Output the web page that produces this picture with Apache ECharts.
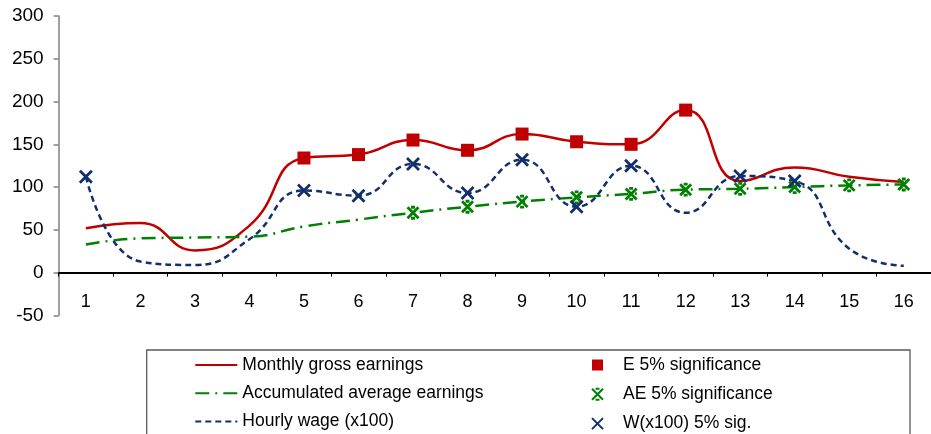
<!DOCTYPE html>
<html>
<head>
<meta charset="utf-8">
<script src="https://cdn.jsdelivr.net/npm/echarts@6/dist/echarts.min.js"></script>
<style>
html,body{margin:0;padding:0;background:#fff;}
#chart{width:931px;height:434px;}
</style>
</head>
<body>
<div id="chart"></div>
<script>
const categories = ['1','2','3','4','5','6','7','8','9','10','11','12','13','14','15','16'];
const earnings = [52, 58, 26, 55, 134, 138, 155, 143, 162, 153, 150, 190, 107, 123, 112, 106];
const accumulated = [33, 40, 41, 42, 54, 62, 70, 77, 83, 88, 92, 97, 98, 100, 102, 103];
const hourly = [112, 13, 9, 39, 96, 90, 127, 93, 132, 77, 125, 70, 113, 107, 28, 8];
const sigE = [5, 6, 7, 8, 9, 10, 11, 12];
const sigAE = [7, 8, 9, 10, 11, 12, 13, 14, 15, 16];
const sigW = [1, 5, 6, 7, 8, 9, 10, 11, 13, 14];
const yMin = -50, yMax = 300, yStep = 50;

const names = ['Monthly gross earnings', 'Accumulated average earnings', 'Hourly wage (x100)',
               'E 5% significance', 'AE 5% significance', 'W(x100) 5% sig.'];
const RED = '#C00000', GREEN = '#008000', NAVY = '#132F6B';
const FONT = '"Liberation Sans", Arial, sans-serif';

function pick(values, sig) {
  return values.map((v, i) => sig.indexOf(i + 1) >= 0 ? v : '-');
}

const chart = echarts.init(document.getElementById('chart'));
chart.setOption({
  animation: false,
  backgroundColor: '#fff',
  grid: { left: 58.6, right: -8.6, top: 16, bottom: 118.6, containLabel: false },
  xAxis: {
    type: 'category',
    data: categories,
    boundaryGap: true,
    axisLine: { onZero: true, lineStyle: { color: '#000', width: 2 } },
    axisTick: { show: true, length: 4, lineStyle: { color: '#000', width: 1 } },
    axisLabel: { color: '#000', fontSize: 18, fontFamily: FONT, margin: -22 },
    splitLine: { show: false }
  },
  yAxis: {
    type: 'value',
    min: yMin, max: yMax, interval: yStep,
    axisLine: { show: true, lineStyle: { color: '#808080', width: 1.5 } },
    axisTick: { show: true, length: 5, lineStyle: { color: '#808080', width: 1.5 } },
    axisLabel: { color: '#000', fontSize: 19, fontFamily: FONT, margin: 15 },
    splitLine: { show: false }
  },
  graphic: [{
    type: 'rect', z: -1,
    shape: { x: 146.7, y: 350, width: 763.3, height: 120 },
    style: { fill: '#fff', stroke: '#5a5a5a', lineWidth: 1.3 }
  }],
  legend: [{
    orient: 'vertical', left: 194.3, top: 356, padding: 0,
    itemWidth: 42, itemHeight: 12, itemGap: 10.3,
    data: names.slice(0, 3),
    itemStyle: { color: 'rgba(0,0,0,0)', borderColor: 'rgba(0,0,0,0)', borderWidth: 0 },
    textStyle: { color: '#000', fontSize: 17.5, fontFamily: FONT, lineHeight: 18 }
  }, {
    orient: 'vertical', left: 591, top: 356, padding: 0,
    itemWidth: 11, itemHeight: 11, itemGap: 11.3,
    data: names.slice(3),
    textStyle: { color: '#000', fontSize: 17.5, fontFamily: FONT, lineHeight: 18, padding: [0, 0, 0, 15] }
  }],
  series: [{
    name: names[0], type: 'line', data: earnings, smooth: 0.5, symbol: 'none',
    lineStyle: { color: RED, width: 2.5 }, itemStyle: { color: RED }
  }, {
    name: names[1], type: 'line', data: accumulated, smooth: 0.5, symbol: 'none',
    lineStyle: { color: GREEN, width: 2.5, type: [14, 6, 2, 6] }, itemStyle: { color: GREEN }
  }, {
    name: names[2], type: 'line', data: hourly, smooth: 0.5, symbol: 'none',
    lineStyle: { color: NAVY, width: 2.5, type: [6, 4] }, itemStyle: { color: NAVY }
  }, {
    name: names[3], type: 'scatter', data: pick(earnings, sigE),
    symbol: 'rect', symbolSize: 13, itemStyle: { color: RED, opacity: 1 }, z: 5
  }, {
    name: names[4], type: 'scatter', data: pick(accumulated, sigAE),
    symbol: 'path://M0,0 L10,10 M10,0 L0,10 M3.2,0 L6.8,0 M3.2,10 L6.8,10', symbolSize: 11,
    itemStyle: { color: 'rgba(0,0,0,0)', borderColor: GREEN, borderWidth: 2.8, opacity: 1 }, z: 5
  }, {
    name: names[5], type: 'scatter', data: pick(hourly, sigW),
    symbol: 'path://M0,0 L10,10 M10,0 L0,10', symbolSize: 12,
    itemStyle: { color: 'rgba(0,0,0,0)', borderColor: NAVY, borderWidth: 2.8, opacity: 1 }, z: 5
  }]
});
</script>
</body>
</html>
